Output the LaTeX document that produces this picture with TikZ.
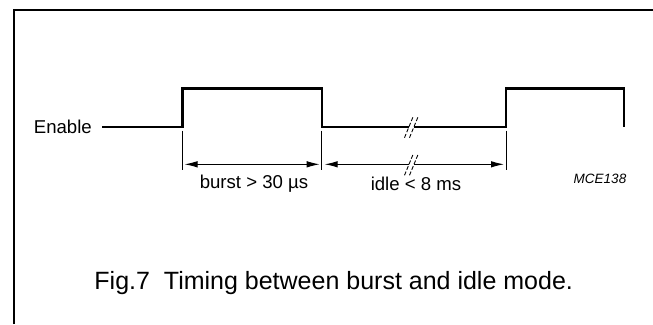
\documentclass[tikz,border=0pt]{standalone}
\usepackage{fontspec}
\setmainfont{Liberation Sans}
\usetikzlibrary{arrows.meta}
\begin{document}
\begin{tikzpicture}[x=1pt,y=-1pt,
  signal/.style={line width=2.4pt},
  framed/.style={line width=2pt},
  extline/.style={line width=0.6pt},
  dimboth/.style={line width=1pt, {Latex[length=13pt,width=6.5pt]}-{Latex[length=13pt,width=6.5pt]}},
  dimleft/.style={line width=1pt, {Latex[length=13pt,width=6.5pt]}-},
  dimright/.style={line width=1pt, -{Latex[length=13pt,width=6.5pt]}},
  brk/.style={line width=0.9pt, dash pattern=on 4pt off 2pt},
  lbl/.style={inner sep=0pt, font=\fontsize{18.6}{19}\selectfont}
]
\useasboundingbox (0,0) rectangle (653,324);
\draw[framed] (14,324) -- (14,10) -- (653,10);

% signal coordinates
\coordinate (s0) at (102,126.7);
\coordinate (r1) at (182.5,126.7);
\coordinate (f1) at (321.7,126.7);
\coordinate (b1) at (409,126.7);
\coordinate (b2) at (414,126.7);
\coordinate (r2) at (506,126.7);
\coordinate (e)  at (624,126.7);

\draw[signal] (s0) -- (r1) -- ++(0,-38.4) -| (f1) -- (b1);
\draw[signal] (b2) -- (r2) -- ++(0,-38.4) -| (e);

% break marks on signal
\draw[brk] (b1) ++(-4.5,11) -- ++(9,-22);
\draw[brk] (b2) ++(-4.5,11) -- ++(9,-22);

% extension lines
\draw[extline] (r1) ++(0,4) -- ++(0,39);
\draw[extline] (f1) ++(0,4) -- ++(0,39);
\draw[extline] (r2) ++(0,4) -- ++(0,39);

% dimension lines
\coordinate (d1) at (182.5,164.3);
\coordinate (d2) at (321.7,164.3);
\coordinate (db1) at (409,164.3);
\coordinate (db2) at (414,164.3);
\coordinate (d3) at (506,164.3);
\draw[dimboth, shorten <=2pt, shorten >=2pt] (d1) -- (d2);
\draw[dimleft, shorten <=3pt] (d2) -- (db1);
\draw[dimright, shorten >=2pt] (db2) -- (d3);
\draw[brk] (db1) ++(-4.5,11) -- ++(9,-22);
\draw[brk] (db2) ++(-4.5,11) -- ++(9,-22);

% labels
\node[lbl, anchor=east] (enable) at (92,126.5) {Enable};
\node[lbl] (burst) at (254,184) {burst > 30 µs};
\node[lbl] (idle) at (416,184) {idle < 8 ms};
\node[inner sep=0pt, font=\fontsize{13.5}{14}\selectfont\itshape] (code) at (600,179) {MCE138};
\node[inner sep=0pt, font=\fontsize{25}{25}\selectfont] (caption) at (333.7,283) {Fig.7\ \ Timing between burst and idle mode.};
\end{tikzpicture}
\end{document}
